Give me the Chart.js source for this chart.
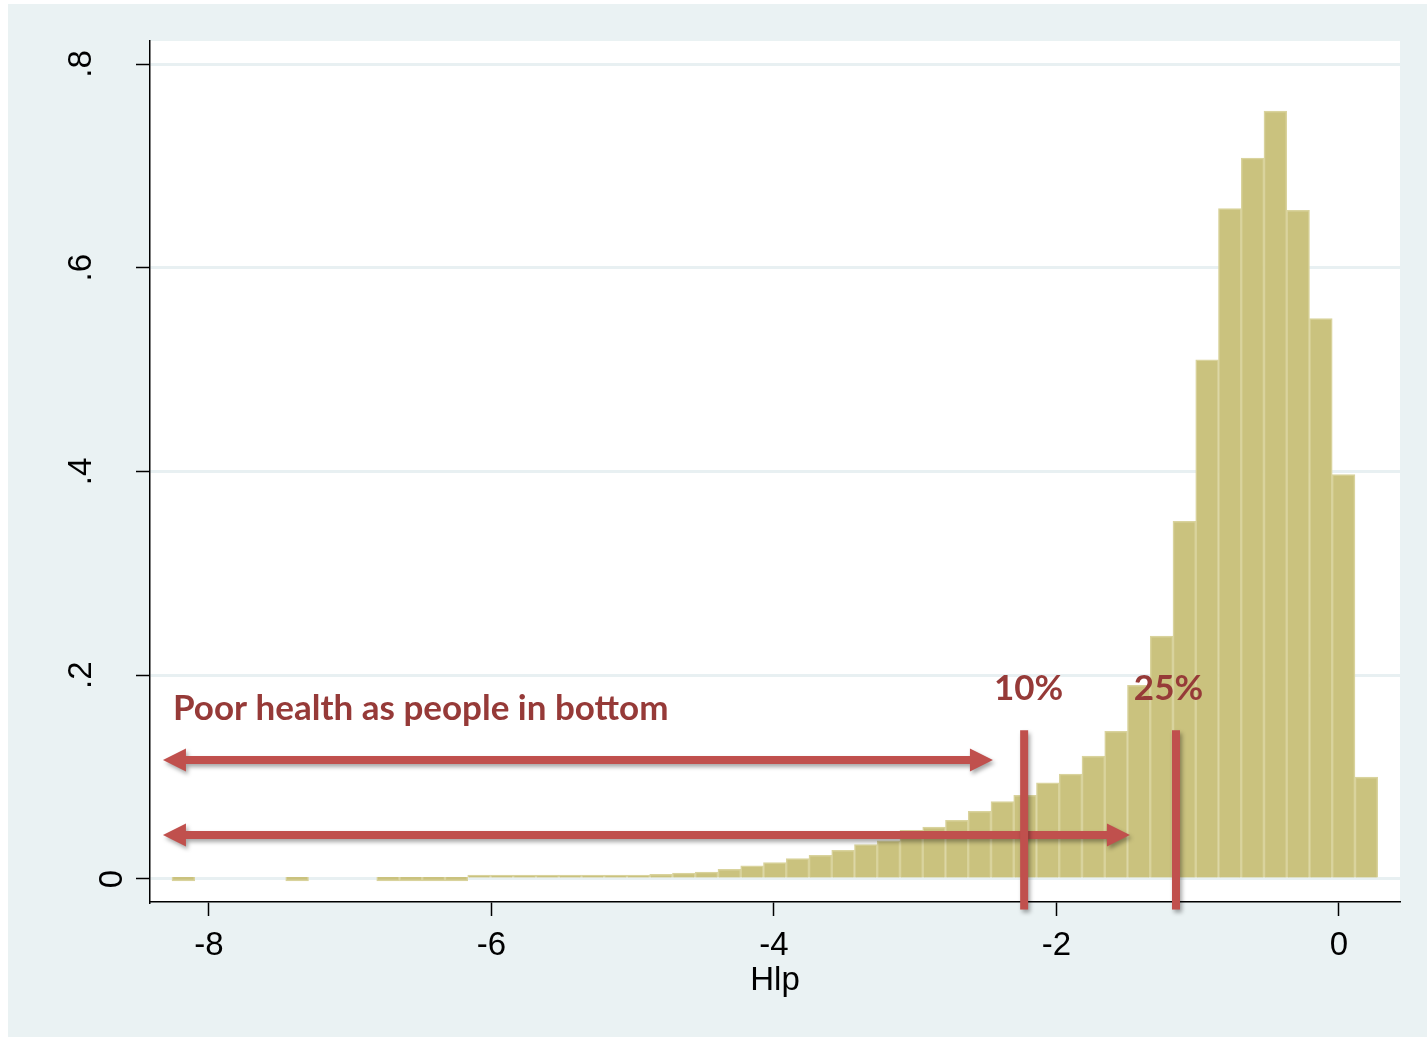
<!DOCTYPE html>
<html>
<head>
    <title>Hlp histogram</title>
    <script src="https://cdn.jsdelivr.net/npm/chart.js"></script>
    <style>
        html, body { margin: 0; padding: 0; background: #fff; }
        #wrap { position: absolute; left: 8px; top: 4px; width: 1419px; height: 1033px; background: #eaf2f3; }
    </style>
</head>
<body>
    <div id="wrap"><canvas id="histChart" width="1419" height="1033"></canvas></div>
    <script>
        // histogram bins (Stata style: 53 bins of equal width); null = empty bin
        const binStart = -8.262;
        const binWidth = 0.16106;
        const density = [
            0, null, null, null, null, 0, null, null, null, 0,
            0, 0, 0, 0.0005, 0.0005, 0.0006, 0.0012, 0.0014, 0.0020, 0.0022,
            0.0028, 0.0045, 0.0058, 0.0068, 0.0095, 0.0128, 0.0160, 0.0200, 0.0233, 0.0280,
            0.0337, 0.0375, 0.0478, 0.0510, 0.0576, 0.0665, 0.0760, 0.0822, 0.0945, 0.1030,
            0.1207, 0.1450, 0.1900, 0.2385, 0.3510, 0.5097, 0.6580, 0.7077, 0.7539, 0.6564,
            0.5500, 0.3969, 0.1001
        ];
        const binCenters = density.map((_, i) => binStart + (i + 0.5) * binWidth);

        const xTickValues = [-8, -6, -4, -2, 0];
        const xTickLabels = ['-8', '-6', '-4', '-2', '0'];
        const yTickValues = [0, 0.2, 0.4, 0.6, 0.8];
        const yTickLabels = ['0', '.2', '.4', '.6', '.8'];

        // annotations (in data units)
        const noteText = 'Poor health as people in bottom';
        const noteAt = { x: -8.255, y: 0.156 };
        const cutoffLabels = ['10%', '25%'];
        const cutoffValues = [-2.229, -1.154];
        const cutoffLabelX = [-2.198, -1.207];
        const cutoffLabelY = 0.1757;
        const cutoffTop = 0.146;
        const cutoffBottom = -0.030;
        const arrowFrom = [-8.326, -8.326];
        const arrowTo = [-2.450, -1.480];
        const arrowY = [0.1168, 0.0432];

        const red = '#c0504d';
        const darkRed = '#963a38';
        const axisFont = { family: 'Liberation Sans', size: 33 };

        const plotBg = {
            id: 'plotBg',
            beforeDraw(chart) {
                const { ctx, chartArea: a } = chart;
                ctx.save();
                ctx.fillStyle = '#ffffff';
                ctx.fillRect(a.left, a.top, a.right - a.left, a.bottom - a.top);
                ctx.restore();
            }
        };

        // Stata style vertical y labels
        const yLabels = {
            id: 'yLabels',
            afterDraw(chart) {
                const { ctx, scales: { y } } = chart;
                ctx.save();
                ctx.fillStyle = '#000';
                ctx.font = axisFont.size + 'px ' + axisFont.family;
                ctx.textAlign = 'center';
                ctx.textBaseline = 'alphabetic';
                yTickValues.forEach((v, i) => {
                    const gap = yTickLabels[i] === '0' ? 28 : 59;
                    ctx.save();
                    ctx.translate(y.right - gap, y.getPixelForValue(v));
                    ctx.rotate(-Math.PI / 2);
                    ctx.fillText(yTickLabels[i], 0, 0);
                    ctx.restore();
                });
                ctx.restore();
            }
        };

        function drawArrow(ctx, x0, x1, y) {
            const head = 23, hh = 11.5, sh = 4;
            ctx.beginPath();
            ctx.moveTo(x0, y);
            ctx.lineTo(x0 + head, y - hh);
            ctx.lineTo(x0 + head, y - sh);
            ctx.lineTo(x1 - head, y - sh);
            ctx.lineTo(x1 - head, y - hh);
            ctx.lineTo(x1, y);
            ctx.lineTo(x1 - head, y + hh);
            ctx.lineTo(x1 - head, y + sh);
            ctx.lineTo(x0 + head, y + sh);
            ctx.lineTo(x0 + head, y + hh);
            ctx.closePath();
            ctx.fill();
        }

        const notes = {
            id: 'notes',
            afterDraw(chart) {
                const { ctx, scales: { x, y } } = chart;
                ctx.save();
                ctx.fillStyle = red;
                ctx.shadowColor = 'rgba(0,0,0,0.35)';
                ctx.shadowBlur = 4;
                ctx.shadowOffsetX = 2;
                ctx.shadowOffsetY = 3;
                arrowY.forEach((v, i) => {
                    drawArrow(ctx, x.getPixelForValue(arrowFrom[i]), x.getPixelForValue(arrowTo[i]), y.getPixelForValue(v));
                });
                cutoffValues.forEach(v => {
                    const px = x.getPixelForValue(v);
                    const top = y.getPixelForValue(cutoffTop);
                    const bot = y.getPixelForValue(cutoffBottom);
                    ctx.fillRect(px - 4, top, 8, bot - top);
                });
                ctx.restore();

                ctx.save();
                ctx.fillStyle = darkRed;
                ctx.font = 'bold 35px Lato';
                ctx.textBaseline = 'alphabetic';
                ctx.textAlign = 'left';
                ctx.fillText(noteText, x.getPixelForValue(noteAt.x), y.getPixelForValue(noteAt.y));
                ctx.textAlign = 'center';
                cutoffLabels.forEach((t, i) => {
                    ctx.fillText(t, x.getPixelForValue(cutoffLabelX[i]), y.getPixelForValue(cutoffLabelY));
                });
                ctx.restore();
            }
        };

        new Chart(document.getElementById('histChart'), {
            type: 'bar',
            data: {
                datasets: [{
                    label: 'Density',
                    data: binCenters.map((c, i) => ({ x: c, y: density[i] })),
                    backgroundColor: '#cac27e',
                    borderColor: '#d9d39d',
                    borderWidth: 1.5,
                    barPercentage: 1,
                    categoryPercentage: 1,
                    minBarLength: 4
                }]
            },
            options: {
                responsive: false,
                animation: false,
                devicePixelRatio: 1,
                layout: { padding: { top: 37, right: 27, left: 0, bottom: 0 } },
                plugins: { legend: { display: false }, tooltip: { enabled: false } },
                scales: {
                    x: {
                        type: 'linear',
                        offset: false,
                        min: -8.4177,
                        max: 0.4319,
                        afterBuildTicks: s => { s.ticks = xTickValues.map(v => ({ value: v })); },
                        afterFit: s => { s.height = 135; },
                        ticks: {
                            callback: (v, i) => xTickLabels[i],
                            maxRotation: 0,
                            padding: 10,
                            color: '#000',
                            font: axisFont
                        },
                        grid: { offset: false, drawOnChartArea: false, tickColor: '#000', tickLength: 14, tickWidth: 1.5 },
                        border: { color: '#000', width: 1.5 },
                        title: {
                            display: true,
                            text: 'Hlp',
                            color: '#000',
                            font: axisFont,
                            padding: { top: 0, bottom: 36 }
                        }
                    },
                    y: {
                        type: 'linear',
                        min: -0.0226,
                        max: 0.8226,
                        afterBuildTicks: s => { s.ticks = yTickValues.map(v => ({ value: v })); },
                        afterFit: s => { s.width = 142; },
                        ticks: { display: false },
                        grid: { color: '#e8f0f2', lineWidth: 3, tickColor: '#000', tickLength: 14, tickWidth: 1.5 },
                        border: { color: '#000', width: 1.5 }
                    }
                }
            },
            plugins: [plotBg, yLabels, notes]
        });
    </script>
</body>
</html>
